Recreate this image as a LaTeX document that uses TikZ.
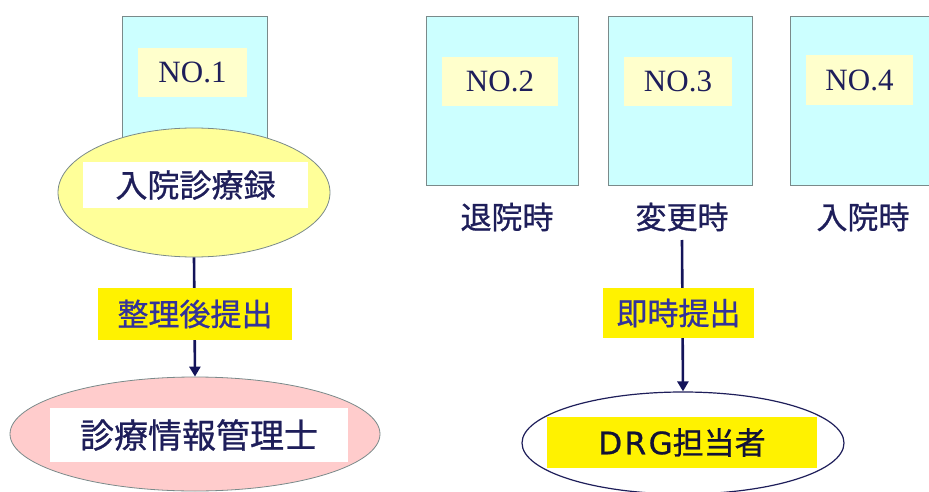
\documentclass[tikz,border=0pt]{standalone}
\usepackage{fontspec}
\setmainfont{Liberation Serif}
\newfontfamily\cjk[FakeBold=0.8]{Noto Sans CJK JP}
\newfontfamily\wide[LetterSpace=8,FakeBold=0.8]{DejaVu Sans}
\usetikzlibrary{shapes.geometric,arrows.meta}
\definecolor{boxfill}{HTML}{CCFFFF}
\definecolor{boxline}{HTML}{7A8A8A}
\definecolor{tagfill}{HTML}{FFFFCC}
\definecolor{ellyellow}{HTML}{FFFF99}
\definecolor{ellpink}{HTML}{FFCCCC}
\definecolor{navy}{HTML}{1E1E5A}
\definecolor{bluetext}{HTML}{33339A}
\definecolor{arrowcol}{HTML}{14145A}
\tikzset{
  docbox/.style={draw=boxline, fill=boxfill, line width=0.8pt, inner sep=0pt},
  notag/.style={fill=tagfill, inner sep=0pt, minimum height=49pt, text=navy, font=\fontsize{31}{34}\selectfont},
  ell/.style={ellipse, draw=boxline, line width=0.8pt, inner sep=0pt},
  plate/.style={fill=white, inner sep=0pt, text=navy},
  ylabel/.style={fill=yellow, inner sep=0pt, text=bluetext, font=\cjk\fontsize{31}{34}\selectfont},
  timelabel/.style={text=navy, inner sep=2pt, font=\cjk\fontsize{31}{34}\selectfont},
  flow/.style={draw=arrowcol, line width=2.6pt, -{Triangle[width=11pt,length=10pt]}}
}
\begin{document}
\begin{tikzpicture}[x=1pt,y=-1pt]
\useasboundingbox (0,0) rectangle (929,492);
\clip (0,0) rectangle (929,492);
% document boxes
\node[docbox, minimum width=145pt, minimum height=134pt] (b1) at (194.5,83) {};
\node[docbox, minimum width=152pt, minimum height=169pt] (b2) at (502,100.5) {};
\node[docbox, minimum width=144pt, minimum height=169pt] (b3) at (680,100.5) {};
\node[docbox, minimum width=145pt, minimum height=169pt] (b4) at (862.5,100.5) {};
% tags
\node[notag, minimum width=109pt] (n1) at (192.5,72.5) {NO.1};
\node[notag, minimum width=116pt] (n2) at (500,81.5) {NO.2};
\node[notag, minimum width=108pt] (n3) at (678,81.5) {NO.3};
\node[notag, minimum width=107pt, minimum height=50pt] (n4) at (859.5,80) {NO.4};
% time labels
\node[timelabel] (t2) at (507,217) {退院時};
\node[timelabel] (t3) at (682,217) {変更時};
\node[timelabel] (t4) at (863,217) {入院時};
% left flow
\node[ell, fill=ellyellow, minimum width=272pt, minimum height=129pt] (e1) at (194,192.5) {};
\node[plate, minimum width=225pt, minimum height=46pt, font=\cjk\fontsize{32}{34}\selectfont] (p1) at (195.5,185) {入院診療録};
\node[ell, fill=ellpink, minimum width=370pt, minimum height=114pt] (e2) at (195,434) {};
\node[plate, minimum width=298pt, minimum height=54pt, font=\cjk\fontsize{34}{36}\selectfont] (p2) at (199,435) {診療情報管理士};
\draw[flow] (e1.south) -- (e2.north);
\node[ylabel, minimum width=194pt, minimum height=52pt] (l1) at (195,314) {整理後提出};
% right flow
\node[ell, draw=navy, fill=white, line width=1.2pt, minimum width=322pt, minimum height=102pt] (e3) at (683,443) {};
\node[fill=yellow, inner sep=0pt, minimum width=270pt, minimum height=51pt, text=navy!60!black, font=\cjk\fontsize{31}{34}\selectfont] (p3) at (682,442.5) {{\wide DRG}担当者};
\coordinate (a3) at (682,240);
\draw[flow] (a3) -- (e3.north);
\node[ylabel, minimum width=151pt, minimum height=50pt] (l2) at (678.5,313) {即時提出};
\end{tikzpicture}
\end{document}
